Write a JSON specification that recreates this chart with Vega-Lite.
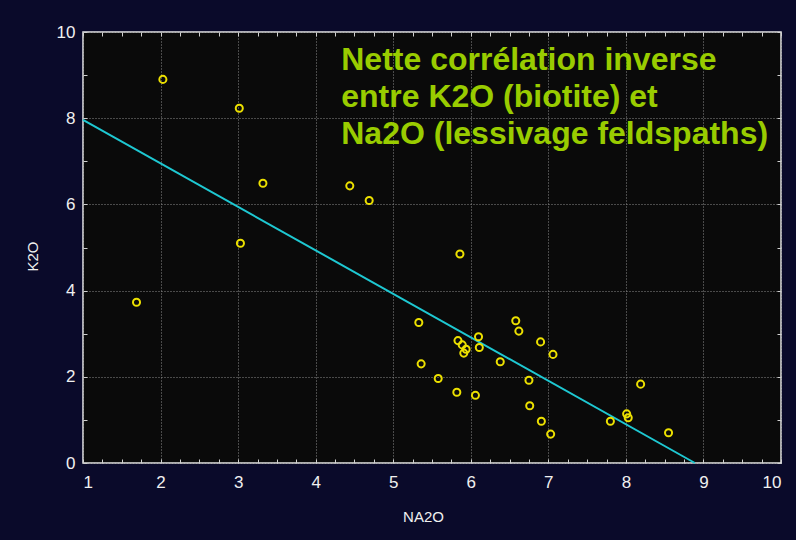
{
  "$schema": "https://vega.github.io/schema/vega-lite/v6.json",
  "width": 698,
  "height": 431,
  "autosize": {"type": "none"},
  "padding": {"left": 83, "top": 32, "right": 15, "bottom": 77},
  "background": "#0a0a2a",
  "config": {
    "view": {"fill": "#0a0a0a", "stroke": "#e6e6e6", "strokeWidth": 1.5},
    "axis": {
      "domain": false,
      "labelColor": "#f0f0f0",
      "labelFont": "Liberation Sans Narrow, Arial Narrow, Liberation Sans, sans-serif",
      "labelFontSize": 17,
      "tickColor": "#d0d0d0",
      "tickSize": -4,
      "tickWidth": 1,
      "gridColor": "#8a8a8a",
      "gridDash": [1, 2],
      "gridWidth": 1,
      "titleColor": "#f0f0f0",
      "titleFont": "Liberation Sans, Arial, sans-serif",
      "titleFontSize": 15,
      "titleFontWeight": "normal"
    }
  },
  "datasets": {
    "pts": [
      {"NA2O": 1.69, "K2O": 3.73},
      {"NA2O": 2.03, "K2O": 8.9},
      {"NA2O": 3.015, "K2O": 8.23},
      {"NA2O": 3.32, "K2O": 6.49},
      {"NA2O": 4.44, "K2O": 6.43},
      {"NA2O": 4.69, "K2O": 6.09},
      {"NA2O": 3.03, "K2O": 5.1},
      {"NA2O": 5.86, "K2O": 4.85},
      {"NA2O": 5.33, "K2O": 3.26},
      {"NA2O": 5.36, "K2O": 2.3},
      {"NA2O": 5.58, "K2O": 1.96},
      {"NA2O": 5.835, "K2O": 2.84},
      {"NA2O": 5.89, "K2O": 2.74},
      {"NA2O": 5.94, "K2O": 2.64},
      {"NA2O": 5.91, "K2O": 2.55},
      {"NA2O": 5.82, "K2O": 1.64},
      {"NA2O": 6.06, "K2O": 1.57},
      {"NA2O": 6.1, "K2O": 2.93},
      {"NA2O": 6.11, "K2O": 2.68},
      {"NA2O": 6.38, "K2O": 2.35},
      {"NA2O": 6.58, "K2O": 3.3},
      {"NA2O": 6.62, "K2O": 3.06},
      {"NA2O": 6.75, "K2O": 1.92},
      {"NA2O": 6.76, "K2O": 1.33},
      {"NA2O": 6.9, "K2O": 2.81},
      {"NA2O": 7.06, "K2O": 2.52},
      {"NA2O": 6.91, "K2O": 0.97},
      {"NA2O": 7.03, "K2O": 0.67},
      {"NA2O": 7.8, "K2O": 0.97},
      {"NA2O": 8.01, "K2O": 1.14},
      {"NA2O": 8.03, "K2O": 1.05},
      {"NA2O": 8.19, "K2O": 1.83},
      {"NA2O": 8.55, "K2O": 0.7}
    ],
    "fit": [
      {"NA2O": 1.0, "K2O": 7.96},
      {"NA2O": 8.89, "K2O": 0.0}
    ]
  },
  "layer": [
    {
      "data": {"name": "fit"},
      "mark": {"type": "line", "color": "#1ec8d2", "strokeWidth": 2},
      "encoding": {
        "x": {
          "field": "NA2O", "type": "quantitative",
          "scale": {"domain": [1, 10], "nice": false, "zero": false},
          "axis": {
            "orient": "top", "labels": false, "grid": false, "title": null,
            "values": [1,1.25,1.5,1.75,2,2.25,2.5,2.75,3,3.25,3.5,3.75,4,4.25,4.5,4.75,5,5.25,5.5,5.75,6,6.25,6.5,6.75,7,7.25,7.5,7.75,8,8.25,8.5,8.75,9,9.25,9.5,9.75,10]
          }
        },
        "y": {
          "field": "K2O", "type": "quantitative",
          "scale": {"domain": [0, 10], "nice": false},
          "axis": {
            "orient": "right", "labels": false, "grid": false, "title": null,
            "values": [0,1,2,3,4,5,6,7,8,9,10]
          }
        }
      }
    },
    {
      "data": {"name": "pts"},
      "mark": {"type": "point", "shape": "circle", "filled": false, "color": "#ece000", "strokeWidth": 2, "size": 50, "opacity": 1},
      "encoding": {
        "x": {
          "field": "NA2O", "type": "quantitative",
          "axis": {
            "orient": "bottom",
            "grid": true,
            "title": "NA2O",
            "titleX": 340, "titleY": 53, "titleBaseline": "middle", "titleAlign": "center",
            "labelPadding": 15,
            "labelBaseline": "top",
            "values": [1,1.25,1.5,1.75,2,2.25,2.5,2.75,3,3.25,3.5,3.75,4,4.25,4.5,4.75,5,5.25,5.5,5.75,6,6.25,6.5,6.75,7,7.25,7.5,7.75,8,8.25,8.5,8.75,9,9.25,9.5,9.75,10],
            "labelExpr": "datum.value % 1 == 0 ? format(datum.value, 'd') : ''",
            "gridOpacity": {"condition": {"test": "datum.value % 1 != 0", "value": 0}, "value": 1}
          }
        },
        "y": {
          "field": "K2O", "type": "quantitative",
          "axis": {
            "orient": "left",
            "grid": true,
            "title": "K2O",
            "titleX": -51, "titleY": 224, "titleAngle": -90, "titleBaseline": "middle", "titleAlign": "center",
            "labelPadding": 12,
            "values": [0,1,2,3,4,5,6,7,8,9,10],
            "labelExpr": "datum.value % 2 == 0 ? format(datum.value, 'd') : ''",
            "gridOpacity": {"condition": {"test": "datum.value % 2 != 0", "value": 0}, "value": 1}
          }
        }
      }
    },
    {
      "data": {"values": [{}]},
      "mark": {
        "type": "text",
        "text": ["Nette corrélation inverse", "entre K2O (biotite) et", "Na2O (lessivage feldspaths)"],
        "align": "left",
        "baseline": "alphabetic",
        "lineHeight": 37,
        "font": "Liberation Sans, Arial, sans-serif",
        "fontWeight": "bold",
        "fontSize": 32,
        "color": "#99cc00"
      },
      "encoding": {
        "x": {"datum": 4.33, "type": "quantitative", "axis": null},
        "y": {"datum": 9.12, "type": "quantitative", "axis": null}
      }
    }
  ],
  "resolve": {"axis": {"x": "independent", "y": "independent"}}
}
